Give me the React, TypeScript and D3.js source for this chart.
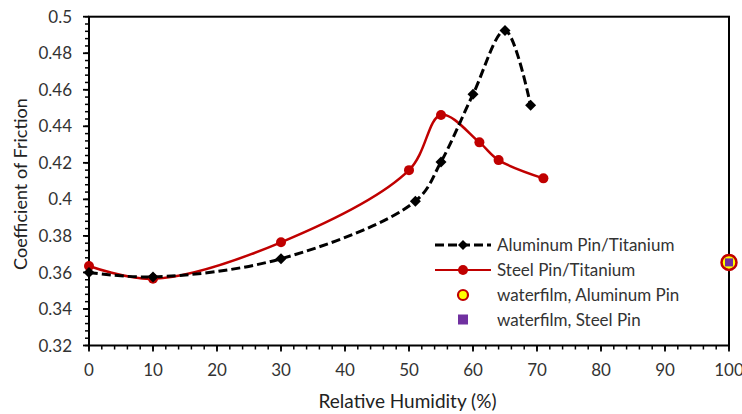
import React from "react";
import * as d3 from "d3";

// Relative humidity (%) and coefficient of friction for each pin material
const aluminumRH = [0, 10, 30, 51, 55, 60, 65, 69];
const aluminumCOF = [0.36, 0.3575, 0.3675, 0.399, 0.4205, 0.4575, 0.4925, 0.4515];

const steelRH = [0, 10, 30, 50, 55, 61, 64, 71];
const steelCOF = [0.3635, 0.3565, 0.3765, 0.416, 0.4462, 0.4312, 0.4215, 0.4115];

// Water film measurements, plotted at 100 % humidity
const waterfilmAluminum = { rh: 100, cof: 0.3655 };
const waterfilmSteel = { rh: 100, cof: 0.3655 };

const xTicks = [0, 10, 20, 30, 40, 50, 60, 70, 80, 90, 100];
const yTicks = [0.32, 0.34, 0.36, 0.38, 0.4, 0.42, 0.44, 0.46, 0.48, 0.5];

const legendLabels = [
  "Aluminum Pin/Titanium",
  "Steel Pin/Titanium",
  "waterfilm, Aluminum Pin",
  "waterfilm, Steel Pin",
];

const RED = "#C00000";
const FONT = "Lato, 'Open Sans', sans-serif";

export default function App() {
  const W = 742;
  const H = 414;
  const left = 89;
  const right = 729;
  const top = 16.7;
  const bottom = 345.5;

  const x = d3.scaleLinear().domain([0, 100]).range([left, right]);
  const y = d3.scaleLinear().domain([0.32, 0.5]).range([bottom, top]);

  const line = d3
    .line<[number, number]>()
    .x((d) => x(d[0]))
    .y((d) => y(d[1]))
    .curve(d3.curveCatmullRom.alpha(0.5));

  const alPts: [number, number][] = aluminumRH.map((r, i) => [r, aluminumCOF[i]]);
  const stPts: [number, number][] = steelRH.map((r, i) => [r, steelCOF[i]]);

  const xMinor = d3.range(0, 100.001, 2);
  const yMinor = d3.range(0.32, 0.5001, 0.004);

  const diamond = (cx: number, cy: number, s = 5.5) =>
    `M${cx},${cy - s}L${cx + s},${cy}L${cx},${cy + s}L${cx - s},${cy}Z`;

  const legX0 = 435;
  const legX1 = 491;
  const legMid = (legX0 + legX1) / 2;
  const legTextX = 497;
  const legY = [245, 270, 295, 319.5];

  return (
    <svg
      width={W}
      height={H}
      style={{ position: "absolute", left: 0, top: 0, background: "#fff" }}
      fontFamily={FONT}
    >
      <rect x={0} y={0} width={W} height={H} fill="#fff" />

      {/* minor ticks */}
      {xMinor.map((v) => (
        <line key={"xm" + v} x1={x(v)} x2={x(v)} y1={bottom} y2={bottom + 4} stroke="#000" strokeWidth={1.5} />
      ))}
      {yMinor.map((v) => (
        <line key={"ym" + v} x1={left - 4} x2={left} y1={y(v)} y2={y(v)} stroke="#000" strokeWidth={1.5} />
      ))}
      {/* major ticks */}
      {xTicks.map((v) => (
        <line key={"xM" + v} x1={x(v)} x2={x(v)} y1={bottom} y2={bottom + 6} stroke="#000" strokeWidth={1.8} />
      ))}
      {yTicks.map((v) => (
        <line key={"yM" + v} x1={left - 6} x2={left} y1={y(v)} y2={y(v)} stroke="#000" strokeWidth={1.8} />
      ))}

      {/* plot frame */}
      <rect x={left} y={top} width={right - left} height={bottom - top} fill="none" stroke="#000" strokeWidth={2} />

      {/* tick labels */}
      {xTicks.map((v) => (
        <text key={"xl" + v} x={x(v)} y={375.5} textAnchor="middle" fontSize={17} fill="#333">
          {v}
        </text>
      ))}
      {yTicks.map((v) => (
        <text key={"yl" + v} x={72} y={y(v)} dy="0.36em" textAnchor="end" fontSize={17} fill="#333">
          {d3.format("")(+v.toFixed(2))}
        </text>
      ))}

      {/* axis titles */}
      <text x={(left + right) / 2 - 1.5} y={407.5} textAnchor="middle" fontSize={19} fill="#222">
        Relative Humidity (%)
      </text>
      <text
        transform={`translate(27,${(top + bottom) / 2 + 3}) rotate(-90)`}
        textAnchor="middle"
        fontSize={18}
        fill="#222"
      >
        Coefficient of Friction
      </text>

      {/* series */}
      <path d={line(stPts) || ""} fill="none" stroke={RED} strokeWidth={2.5} />
      <path d={line(alPts) || ""} fill="none" stroke="#000" strokeWidth={3} strokeDasharray="9,4" />
      {stPts.map((d, i) => (
        <circle key={"sc" + i} cx={x(d[0])} cy={y(d[1])} r={5} fill={RED} />
      ))}
      {alPts.map((d, i) => (
        <path key={"ad" + i} d={diamond(x(d[0]), y(d[1]))} fill="#000" />
      ))}

      {/* water film points */}
      <circle
        cx={x(waterfilmAluminum.rh)}
        cy={y(waterfilmAluminum.cof)}
        r={7.5}
        fill="#FFFF00"
        stroke={RED}
        strokeWidth={2.5}
      />
      <rect
        x={x(waterfilmSteel.rh) - 4}
        y={y(waterfilmSteel.cof) - 4}
        width={8}
        height={8}
        fill="#7030A0"
      />

      {/* legend */}
      <line x1={legX0} x2={legX1} y1={legY[0]} y2={legY[0]} stroke="#000" strokeWidth={3} strokeDasharray="9,4" />
      <path d={diamond(legMid, legY[0], 5)} fill="#000" />
      <line x1={legX0} x2={legX1} y1={legY[1]} y2={legY[1]} stroke={RED} strokeWidth={2} />
      <circle cx={legMid} cy={legY[1]} r={5} fill={RED} />
      <circle cx={legMid} cy={legY[2]} r={5} fill="#FFFF00" stroke={RED} strokeWidth={2.2} />
      <rect x={legMid - 5} y={legY[3] - 5} width={10} height={10} fill="#7030A0" />
      {legendLabels.map((t, i) => (
        <text key={t} x={legTextX} y={legY[i]} dy="0.36em" fontSize={17} fill="#333">
          {t}
        </text>
      ))}
    </svg>
  );
}
